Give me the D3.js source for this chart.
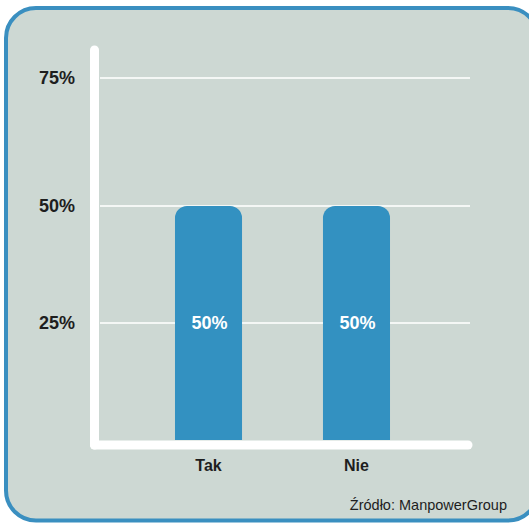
<!DOCTYPE html>
<html>
<head>
<meta charset="utf-8">
<script src="https://cdn.jsdelivr.net/npm/d3@7"></script>
<style>
  html, body { margin: 0; padding: 0; background: #ffffff; overflow: hidden; }
  svg { display: block; font-family: "Liberation Sans", Arial, Helvetica, sans-serif; }
</style>
</head>
<body>
<svg id="chart" width="529" height="523"></svg>
<script>
// Survey answers and their shares
const categories = ["Tak", "Nie"];
const values = [50, 50];
const tickValues = [25, 50, 75];
const tickLabels = ["25%", "50%", "75%"];
const sourceText = "Źródło: ManpowerGroup";

const svg = d3.select("#chart");

// Card background with blue rounded frame (right side runs past the edge)
svg.append("rect")
  .attr("x", 6).attr("y", 8)
  .attr("width", 532).attr("height", 512.5)
  .attr("rx", 30).attr("ry", 30)
  .attr("fill", "#cdd8d3")
  .attr("stroke", "#3a8fc0")
  .attr("stroke-width", 4);

// Value axis: the top tick is spaced a little wider than the lower ones
const y = d3.scaleLinear()
  .domain([0, 25, 50, 75])
  .range([440, 323, 206, 78]);

const x = d3.scaleBand()
  .domain(categories)
  .range([101, 464])
  .paddingInner(0.547)
  .paddingOuter(0.5);

// Gridlines
svg.append("g")
  .selectAll("line")
  .data(tickValues)
  .join("line")
  .attr("x1", 100).attr("x2", 470)
  .attr("y1", d => y(d)).attr("y2", d => y(d))
  .attr("stroke", "#f4f7f5")
  .attr("stroke-width", 1.8);

// Tick labels
svg.append("g")
  .selectAll("text")
  .data(tickValues)
  .join("text")
  .attr("x", 75)
  .attr("y", d => y(d))
  .attr("dy", "0.36em")
  .attr("text-anchor", "end")
  .attr("font-size", 18)
  .attr("font-weight", "bold")
  .attr("fill", "#1e1e1e")
  .text((d, i) => tickLabels[i]);

// Bars with rounded top corners
const r = 12;
function topRoundedBar(x0, y0, w, h) {
  const p = d3.path();
  p.moveTo(x0, y0 + h);
  p.lineTo(x0, y0 + r);
  p.arcTo(x0, y0, x0 + r, y0, r);
  p.lineTo(x0 + w - r, y0);
  p.arcTo(x0 + w, y0, x0 + w, y0 + r, r);
  p.lineTo(x0 + w, y0 + h);
  p.closePath();
  return p.toString();
}

svg.append("g")
  .selectAll("path")
  .data(values)
  .join("path")
  .attr("d", (d, i) => topRoundedBar(x(categories[i]), y(d), x.bandwidth(), y(0) - y(d)))
  .attr("fill", "#3391c1");

// Value labels inside the bars
svg.append("g")
  .selectAll("text")
  .data(values)
  .join("text")
  .attr("x", (d, i) => x(categories[i]) + x.bandwidth() / 2 + 1)
  .attr("y", y(25))
  .attr("dy", "0.36em")
  .attr("text-anchor", "middle")
  .attr("font-size", 18)
  .attr("font-weight", "bold")
  .attr("fill", "#ffffff")
  .text(d => d + "%");

// Axis lines (thick white, rounded ends)
svg.append("line")
  .attr("x1", 94.5).attr("x2", 94.5)
  .attr("y1", 50).attr("y2", 445)
  .attr("stroke", "#ffffff").attr("stroke-width", 9)
  .attr("stroke-linecap", "round");
svg.append("line")
  .attr("x1", 94.5).attr("x2", 468)
  .attr("y1", 445).attr("y2", 445)
  .attr("stroke", "#ffffff").attr("stroke-width", 9)
  .attr("stroke-linecap", "round");

// Category labels
svg.append("g")
  .selectAll("text")
  .data(categories)
  .join("text")
  .attr("x", d => x(d) + x.bandwidth() / 2)
  .attr("y", 465)
  .attr("dy", "0.36em")
  .attr("text-anchor", "middle")
  .attr("font-size", 16)
  .attr("font-weight", "bold")
  .attr("fill", "#1e1e1e")
  .text(d => d);

// Source note
svg.append("text")
  .attr("x", 507)
  .attr("y", 510)
  .attr("text-anchor", "end")
  .attr("font-size", 14.5)
  .attr("fill", "#1e1e1e")
  .text(sourceText);
</script>
</body>
</html>
